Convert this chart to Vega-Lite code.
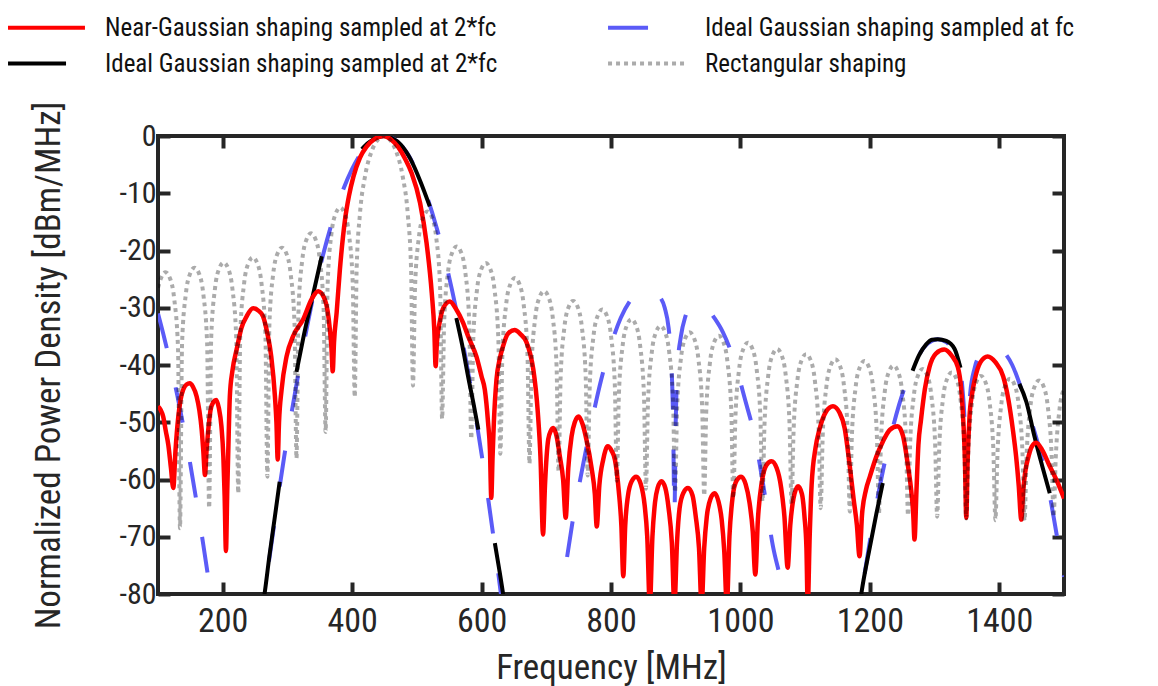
{
"$schema": "https://vega.github.io/schema/vega-lite/v6.json",
"width": 906, "height": 458,
"autosize": "none",
"padding": {"left": 158, "top": 136, "right": 94, "bottom": 92},
"background": "white",
"config": {
  "view": {"stroke": "#262626", "strokeWidth": 4},
  "font": "'Liberation Sans Narrow', 'Noto Sans Condensed', 'Roboto Condensed', 'DejaVu Sans Condensed', sans-serif"
},
"datasets": {
"blue": [
{"s":"b","g":1,"f":100,"d":-31},{"s":"b","g":1,"f":110,"d":-35.4},{"s":"b","g":1,"f":120,"d":-40.2},{"s":"b","g":1,"f":130,"d":-45.4},{"s":"b","g":1,"f":140,"d":-51.2},{"s":"b","g":1,"f":150,"d":-57.4},{"s":"b","g":1,"f":160,"d":-64.2},{"s":"b","g":1,"f":170,"d":-71.4},{"s":"b","g":1,"f":180,"d":-79},{"s":"b","g":1,"f":190,"d":-87.2},
{"s":"b","g":2,"f":255,"d":-87.5},{"s":"b","g":2,"f":265,"d":-79.5},{"s":"b","g":2,"f":280,"d":-67.5},{"s":"b","g":2,"f":295,"d":-56},{"s":"b","g":2,"f":310,"d":-46},{"s":"b","g":2,"f":325,"d":-36.5},{"s":"b","g":2,"f":340,"d":-28},{"s":"b","g":2,"f":355,"d":-20.8},{"s":"b","g":2,"f":370,"d":-14.7},{"s":"b","g":2,"f":385,"d":-9.7},{"s":"b","g":2,"f":400,"d":-5.75},{"s":"b","g":2,"f":415,"d":-2.8},{"s":"b","g":2,"f":430,"d":-0.9},{"s":"b","g":2,"f":450,"d":0},{"s":"b","g":2,"f":470,"d":-1},{"s":"b","g":2,"f":485,"d":-3},{"s":"b","g":2,"f":500,"d":-6.2},{"s":"b","g":2,"f":515,"d":-10.4},{"s":"b","g":2,"f":530,"d":-15.8},{"s":"b","g":2,"f":545,"d":-22.3},{"s":"b","g":2,"f":560,"d":-29.9},{"s":"b","g":2,"f":575,"d":-38.6},{"s":"b","g":2,"f":590,"d":-48.4},{"s":"b","g":2,"f":605,"d":-59.3},{"s":"b","g":2,"f":620,"d":-71.4},{"s":"b","g":2,"f":635,"d":-84.5},
{"s":"b","g":3,"f":716,"d":-86.7},{"s":"b","g":3,"f":725,"d":-79.2},{"s":"b","g":3,"f":740,"d":-67.8},{"s":"b","g":3,"f":755,"d":-58.5},{"s":"b","g":3,"f":770,"d":-50},{"s":"b","g":3,"f":785,"d":-42.5},{"s":"b","g":3,"f":800,"d":-36.5},{"s":"b","g":3,"f":815,"d":-31.8},{"s":"b","g":3,"f":830,"d":-28.7},{"s":"b","g":3,"f":845,"d":-27.1},{"s":"b","g":3,"f":855,"d":-26.8},{"s":"b","g":3,"f":865,"d":-27.1},{"s":"b","g":3,"f":875,"d":-28},{"s":"b","g":3,"f":883,"d":-30},{"s":"b","g":3,"f":889,"d":-33.5},{"s":"b","g":3,"f":893,"d":-39},{"s":"b","g":3,"f":896,"d":-50},{"s":"b","g":3,"f":898,"d":-66},{"s":"b","g":3,"f":900,"d":-50},{"s":"b","g":3,"f":903,"d":-40},{"s":"b","g":3,"f":908,"d":-35},{"s":"b","g":3,"f":915,"d":-31.5},{"s":"b","g":3,"f":924,"d":-29.5},{"s":"b","g":3,"f":933,"d":-29},{"s":"b","g":3,"f":945,"d":-29.5},{"s":"b","g":3,"f":958,"d":-31.5},{"s":"b","g":3,"f":973,"d":-34.3},{"s":"b","g":3,"f":991,"d":-39.5},{"s":"b","g":3,"f":1007,"d":-46},{"s":"b","g":3,"f":1022,"d":-52.5},{"s":"b","g":3,"f":1036,"d":-61.5},{"s":"b","g":3,"f":1050,"d":-71.5},{"s":"b","g":3,"f":1064,"d":-78.5},{"s":"b","g":3,"f":1075,"d":-86},
{"s":"b","g":4,"f":1175,"d":-89.6},{"s":"b","g":4,"f":1185,"d":-81.6},{"s":"b","g":4,"f":1200,"d":-70.8},{"s":"b","g":4,"f":1215,"d":-61.4},{"s":"b","g":4,"f":1230,"d":-53.5},{"s":"b","g":4,"f":1245,"d":-47},{"s":"b","g":4,"f":1260,"d":-42},{"s":"b","g":4,"f":1275,"d":-38.4},{"s":"b","g":4,"f":1290,"d":-36.2},{"s":"b","g":4,"f":1305,"d":-35.5},{"s":"b","g":4,"f":1318,"d":-36},{"s":"b","g":4,"f":1330,"d":-37.7},{"s":"b","g":4,"f":1338,"d":-40},{"s":"b","g":4,"f":1343,"d":-44},{"s":"b","g":4,"f":1347,"d":-52},{"s":"b","g":4,"f":1349,"d":-64},{"s":"b","g":4,"f":1351,"d":-52},{"s":"b","g":4,"f":1355,"d":-45},{"s":"b","g":4,"f":1362,"d":-40.5},{"s":"b","g":4,"f":1372,"d":-38},{"s":"b","g":4,"f":1390,"d":-36.7},{"s":"b","g":4,"f":1405,"d":-37.5},{"s":"b","g":4,"f":1420,"d":-40},{"s":"b","g":4,"f":1435,"d":-44.5},{"s":"b","g":4,"f":1450,"d":-50},{"s":"b","g":4,"f":1465,"d":-56},{"s":"b","g":4,"f":1478,"d":-62.8},{"s":"b","g":4,"f":1490,"d":-70.5},{"s":"b","g":4,"f":1500,"d":-77}
],
"black": [
{"s":"k","g":1,"f":262,"d":-82},{"s":"k","g":1,"f":265,"d":-79.7},{"s":"k","g":1,"f":272,"d":-73.5},{"s":"k","g":1,"f":280,"d":-67},{"s":"k","g":1,"f":288,"d":-60.4},
{"s":"k","g":2,"f":314,"d":-41.2},{"s":"k","g":2,"f":325,"d":-35},{"s":"k","g":2,"f":340,"d":-27.5},{"s":"k","g":2,"f":353,"d":-21},
{"s":"k","g":3,"f":415,"d":-2.3},{"s":"k","g":3,"f":425,"d":-1.2},{"s":"k","g":3,"f":438,"d":-0.3},{"s":"k","g":3,"f":450,"d":0},{"s":"k","g":3,"f":462,"d":-0.4},{"s":"k","g":3,"f":475,"d":-1.5},{"s":"k","g":3,"f":490,"d":-4},{"s":"k","g":3,"f":505,"d":-7.8},{"s":"k","g":3,"f":520,"d":-12.3},
{"s":"k","g":4,"f":561,"d":-31.8},{"s":"k","g":4,"f":570,"d":-36.5},{"s":"k","g":4,"f":580,"d":-42.5},{"s":"k","g":4,"f":588,"d":-47},{"s":"k","g":4,"f":595,"d":-51.3},
{"s":"k","g":5,"f":620.5,"d":-71.1},{"s":"k","g":5,"f":627,"d":-75.5},{"s":"k","g":5,"f":633,"d":-79.8},{"s":"k","g":5,"f":637,"d":-83},
{"s":"k","g":6,"f":1183,"d":-83},{"s":"k","g":6,"f":1187,"d":-79.8},{"s":"k","g":6,"f":1200,"d":-71.8},{"s":"k","g":6,"f":1210,"d":-66},{"s":"k","g":6,"f":1220,"d":-60.6},
{"s":"k","g":7,"f":1266,"d":-41},{"s":"k","g":7,"f":1276,"d":-38.3},{"s":"k","g":7,"f":1287,"d":-36.4},{"s":"k","g":7,"f":1296,"d":-35.6},{"s":"k","g":7,"f":1305,"d":-35.5},{"s":"k","g":7,"f":1318,"d":-35.8},{"s":"k","g":7,"f":1331,"d":-37.2},{"s":"k","g":7,"f":1340,"d":-40.5},
{"s":"k","g":8,"f":1431,"d":-43.3},{"s":"k","g":8,"f":1442,"d":-46.5},{"s":"k","g":8,"f":1454,"d":-52.3},{"s":"k","g":8,"f":1466,"d":-57.5},{"s":"k","g":8,"f":1478,"d":-62.4}
],
"red": [
{"s":"r","f":100,"d":-47.2},{"s":"r","f":104,"d":-47.8},{"s":"r","f":108,"d":-49},{"s":"r","f":112,"d":-51.5},{"s":"r","f":116,"d":-54},{"s":"r","f":120,"d":-58},{"s":"r","f":123.6,"d":-61.5},{"s":"r","f":127,"d":-55},{"s":"r","f":131.4,"d":-49},{"s":"r","f":135,"d":-46},{"s":"r","f":139,"d":-44.3},{"s":"r","f":144,"d":-43.4},{"s":"r","f":149,"d":-43.2},{"s":"r","f":154,"d":-43.8},{"s":"r","f":159.7,"d":-45.5},{"s":"r","f":164,"d":-48},{"s":"r","f":167.5,"d":-51.3},{"s":"r","f":170,"d":-55},{"s":"r","f":172.6,"d":-59.2},{"s":"r","f":175,"d":-55},{"s":"r","f":177.7,"d":-51.3},{"s":"r","f":181,"d":-48},{"s":"r","f":185.4,"d":-46.5},{"s":"r","f":190,"d":-46.1},{"s":"r","f":194,"d":-47.5},{"s":"r","f":198,"d":-50.7},{"s":"r","f":201,"d":-56},{"s":"r","f":203,"d":-63},{"s":"r","f":205,"d":-72.5},{"s":"r","f":207,"d":-62},{"s":"r","f":208.6,"d":-55},{"s":"r","f":211,"d":-45.5},{"s":"r","f":215,"d":-41},{"s":"r","f":221.5,"d":-37.3},{"s":"r","f":229,"d":-33.5},{"s":"r","f":237,"d":-31.5},{"s":"r","f":247,"d":-30.1},{"s":"r","f":255,"d":-30.5},{"s":"r","f":262.3,"d":-31.5},{"s":"r","f":269,"d":-34.5},{"s":"r","f":275,"d":-38.5},{"s":"r","f":280.7,"d":-45.5},{"s":"r","f":283,"d":-50},{"s":"r","f":285,"d":-56.5},{"s":"r","f":287,"d":-50},{"s":"r","f":291,"d":-44.3},{"s":"r","f":298.7,"d":-38.5},{"s":"r","f":309,"d":-34.9},{"s":"r","f":324.4,"d":-32},{"s":"r","f":337.4,"d":-28.5},{"s":"r","f":347.6,"d":-27.1},{"s":"r","f":357.9,"d":-28.6},{"s":"r","f":362,"d":-30.5},{"s":"r","f":365.6,"d":-33.8},{"s":"r","f":368,"d":-37},{"s":"r","f":370,"d":-41.1},{"s":"r","f":372,"d":-36},{"s":"r","f":376,"d":-30.9},{"s":"r","f":381,"d":-23.4},{"s":"r","f":389,"d":-14.6},{"s":"r","f":395,"d":-10.5},{"s":"r","f":402,"d":-7.1},{"s":"r","f":412,"d":-3.8},{"s":"r","f":422,"d":-1.9},{"s":"r","f":435,"d":-0.5},{"s":"r","f":448,"d":0},{"s":"r","f":460,"d":-0.6},{"s":"r","f":471,"d":-1.9},{"s":"r","f":482,"d":-4},{"s":"r","f":492,"d":-6.5},{"s":"r","f":505,"d":-11.7},{"s":"r","f":515,"d":-18.7},{"s":"r","f":523,"d":-27.4},{"s":"r","f":527,"d":-34},{"s":"r","f":529,"d":-40.2},{"s":"r","f":531,"d":-36},{"s":"r","f":535,"d":-32.7},{"s":"r","f":541,"d":-30},{"s":"r","f":551,"d":-28.9},{"s":"r","f":561,"d":-30.3},{"s":"r","f":571,"d":-32.5},{"s":"r","f":580,"d":-35.2},{"s":"r","f":592,"d":-38.5},{"s":"r","f":600,"d":-42},{"s":"r","f":605,"d":-44.3},{"s":"r","f":610,"d":-50},{"s":"r","f":613,"d":-55},{"s":"r","f":615,"d":-63.2},{"s":"r","f":617,"d":-56},{"s":"r","f":619,"d":-50},{"s":"r","f":623,"d":-42.6},{"s":"r","f":628,"d":-39},{"s":"r","f":633,"d":-36.8},{"s":"r","f":641,"d":-34.5},{"s":"r","f":651,"d":-33.9},{"s":"r","f":660,"d":-34.6},{"s":"r","f":669,"d":-35.9},{"s":"r","f":675,"d":-38},{"s":"r","f":680,"d":-40.8},{"s":"r","f":687,"d":-48.4},{"s":"r","f":691,"d":-56},{"s":"r","f":695,"d":-69.6},{"s":"r","f":698,"d":-61},{"s":"r","f":703,"d":-53},{"s":"r","f":707,"d":-51.5},{"s":"r","f":711,"d":-51},{"s":"r","f":716,"d":-52.5},{"s":"r","f":721,"d":-56},{"s":"r","f":726,"d":-60},{"s":"r","f":730,"d":-66.7},{"s":"r","f":734,"d":-58},{"s":"r","f":739,"d":-52.5},{"s":"r","f":744,"d":-50},{"s":"r","f":750,"d":-49},{"s":"r","f":756,"d":-50.3},{"s":"r","f":762,"d":-53},{"s":"r","f":770,"d":-58},{"s":"r","f":775,"d":-62.5},{"s":"r","f":778,"d":-68.2},{"s":"r","f":782,"d":-61},{"s":"r","f":788,"d":-56.5},{"s":"r","f":795,"d":-54.2},{"s":"r","f":801,"d":-55},{"s":"r","f":806,"d":-56.5},{"s":"r","f":812,"d":-62},{"s":"r","f":816,"d":-68},{"s":"r","f":819,"d":-76.9},{"s":"r","f":822,"d":-68},{"s":"r","f":826,"d":-63},{"s":"r","f":832,"d":-60.3},{"s":"r","f":839,"d":-59.5},{"s":"r","f":846,"d":-60.8},{"s":"r","f":852,"d":-64.5},{"s":"r","f":856,"d":-70},{"s":"r","f":860,"d":-82},{"s":"r","f":864,"d":-70},{"s":"r","f":868,"d":-64},{"s":"r","f":872,"d":-61.5},{"s":"r","f":878,"d":-60.3},{"s":"r","f":884,"d":-61.5},{"s":"r","f":889,"d":-65},{"s":"r","f":894,"d":-71},{"s":"r","f":898,"d":-82},{"s":"r","f":902,"d":-71},{"s":"r","f":906,"d":-65},{"s":"r","f":912,"d":-62.3},{"s":"r","f":919,"d":-61.5},{"s":"r","f":926,"d":-62.8},{"s":"r","f":931,"d":-66.5},{"s":"r","f":936,"d":-72},{"s":"r","f":940,"d":-82},{"s":"r","f":944,"d":-72},{"s":"r","f":948,"d":-66.5},{"s":"r","f":954,"d":-63.3},{"s":"r","f":960,"d":-62.4},{"s":"r","f":966,"d":-63.8},{"s":"r","f":971,"d":-67},{"s":"r","f":975,"d":-72.5},{"s":"r","f":979,"d":-82},{"s":"r","f":983,"d":-70},{"s":"r","f":988,"d":-63},{"s":"r","f":994,"d":-60.2},{"s":"r","f":1001,"d":-59.5},{"s":"r","f":1008,"d":-60.8},{"s":"r","f":1014,"d":-64},{"s":"r","f":1019,"d":-69},{"s":"r","f":1023,"d":-76.6},{"s":"r","f":1027,"d":-67},{"s":"r","f":1033,"d":-60.5},{"s":"r","f":1040,"d":-57.5},{"s":"r","f":1048,"d":-56.8},{"s":"r","f":1056,"d":-58},{"s":"r","f":1063,"d":-61.5},{"s":"r","f":1068,"d":-66.5},{"s":"r","f":1073,"d":-75.4},{"s":"r","f":1077,"d":-68},{"s":"r","f":1082,"d":-63.3},{"s":"r","f":1089,"d":-61.2},{"s":"r","f":1095,"d":-62.5},{"s":"r","f":1099,"d":-66.5},{"s":"r","f":1102,"d":-72},{"s":"r","f":1104,"d":-82},{"s":"r","f":1107,"d":-70},{"s":"r","f":1110,"d":-61},{"s":"r","f":1116,"d":-54.5},{"s":"r","f":1122,"d":-51.3},{"s":"r","f":1132,"d":-48.2},{"s":"r","f":1143,"d":-47.2},{"s":"r","f":1153,"d":-48.3},{"s":"r","f":1161,"d":-51},{"s":"r","f":1169,"d":-57.7},{"s":"r","f":1175,"d":-63.5},{"s":"r","f":1180,"d":-68},{"s":"r","f":1184,"d":-73.4},{"s":"r","f":1188,"d":-66},{"s":"r","f":1194,"d":-61.8},{"s":"r","f":1200,"d":-59.5},{"s":"r","f":1210,"d":-56},{"s":"r","f":1220,"d":-53.4},{"s":"r","f":1231,"d":-51.3},{"s":"r","f":1243,"d":-50.7},{"s":"r","f":1251,"d":-52.3},{"s":"r","f":1259,"d":-57.7},{"s":"r","f":1264,"d":-62},{"s":"r","f":1267,"d":-66},{"s":"r","f":1269,"d":-70.5},{"s":"r","f":1272,"d":-62},{"s":"r","f":1275,"d":-54},{"s":"r","f":1279,"d":-49.6},{"s":"r","f":1285,"d":-44.2},{"s":"r","f":1292,"d":-40.4},{"s":"r","f":1302,"d":-38},{"s":"r","f":1315,"d":-37.3},{"s":"r","f":1326,"d":-38.3},{"s":"r","f":1336,"d":-40.4},{"s":"r","f":1341,"d":-44},{"s":"r","f":1345,"d":-51},{"s":"r","f":1347,"d":-57},{"s":"r","f":1349,"d":-66.7},{"s":"r","f":1351,"d":-57},{"s":"r","f":1354,"d":-49},{"s":"r","f":1358,"d":-45},{"s":"r","f":1362,"d":-42.6},{"s":"r","f":1371,"d":-39.5},{"s":"r","f":1382,"d":-38.5},{"s":"r","f":1394,"d":-39.5},{"s":"r","f":1406,"d":-42},{"s":"r","f":1414,"d":-46},{"s":"r","f":1421,"d":-51.3},{"s":"r","f":1426,"d":-56},{"s":"r","f":1430,"d":-61},{"s":"r","f":1434,"d":-67},{"s":"r","f":1437,"d":-62},{"s":"r","f":1441,"d":-58},{"s":"r","f":1444,"d":-56.5},{"s":"r","f":1450,"d":-54.3},{"s":"r","f":1457,"d":-53.6},{"s":"r","f":1466,"d":-54.8},{"s":"r","f":1478,"d":-57.7},{"s":"r","f":1490,"d":-60.5},{"s":"r","f":1500,"d":-63.3}
],
"gray": [
{"s":"g","f":100,"d":-26.5},{"s":"g","f":104.8,"d":-24.8},{"s":"g","f":111.5,"d":-23.8},{"s":"g","f":118.3,"d":-24.8},{"s":"g","f":125,"d":-28.4},{"s":"g","f":130.9,"d":-37},{"s":"g","f":134,"d":-68.5},
{"s":"g","f":137.2,"d":-36.2},{"s":"g","f":143,"d":-27.6},{"s":"g","f":149.8,"d":-24},{"s":"g","f":156.5,"d":-23},{"s":"g","f":163.3,"d":-24},{"s":"g","f":170,"d":-27.6},{"s":"g","f":175.9,"d":-36.2},{"s":"g","f":179,"d":-65},
{"s":"g","f":182.2,"d":-35.3},{"s":"g","f":188,"d":-26.7},{"s":"g","f":194.8,"d":-23.1},{"s":"g","f":201.5,"d":-22.1},{"s":"g","f":208.3,"d":-23.1},{"s":"g","f":215,"d":-26.7},{"s":"g","f":220.9,"d":-35.3},{"s":"g","f":224,"d":-62.4},
{"s":"g","f":227.2,"d":-34.4},{"s":"g","f":233,"d":-25.8},{"s":"g","f":239.8,"d":-22.2},{"s":"g","f":246.5,"d":-21.2},{"s":"g","f":253.3,"d":-22.2},{"s":"g","f":260,"d":-25.8},{"s":"g","f":265.9,"d":-34.4},{"s":"g","f":269,"d":-59.5},
{"s":"g","f":272.2,"d":-32.7},{"s":"g","f":278,"d":-24.1},{"s":"g","f":284.8,"d":-20.5},{"s":"g","f":291.5,"d":-19.5},{"s":"g","f":298.3,"d":-20.5},{"s":"g","f":305,"d":-24.1},{"s":"g","f":310.9,"d":-32.7},{"s":"g","f":314,"d":-56.3},
{"s":"g","f":317.2,"d":-30.2},{"s":"g","f":323,"d":-21.6},{"s":"g","f":329.8,"d":-18},{"s":"g","f":336.5,"d":-17},{"s":"g","f":343.3,"d":-18},{"s":"g","f":350,"d":-21.6},{"s":"g","f":355.9,"d":-30.2},{"s":"g","f":359,"d":-51.7},
{"s":"g","f":362.2,"d":-25.7},{"s":"g","f":368,"d":-17.1},{"s":"g","f":374.8,"d":-13.5},{"s":"g","f":381.5,"d":-12.5},{"s":"g","f":388.3,"d":-13.5},{"s":"g","f":395,"d":-17.1},{"s":"g","f":400.9,"d":-25.7},{"s":"g","f":404,"d":-45.6},
{"s":"g","f":407,"d":-23},{"s":"g","f":412,"d":-13.7},{"s":"g","f":420,"d":-7},{"s":"g","f":430,"d":-2.7},{"s":"g","f":440,"d":-0.6},{"s":"g","f":449,"d":0},{"s":"g","f":458,"d":-0.6},{"s":"g","f":468,"d":-2.7},{"s":"g","f":478,"d":-7},{"s":"g","f":486,"d":-13.7},{"s":"g","f":491,"d":-23},{"s":"g","f":494,"d":-43.6},
{"s":"g","f":497.2,"d":-26.4},{"s":"g","f":503,"d":-17.8},{"s":"g","f":509.8,"d":-14.2},{"s":"g","f":516.5,"d":-13.2},{"s":"g","f":523.3,"d":-14.2},{"s":"g","f":530,"d":-17.8},{"s":"g","f":535.9,"d":-26.4},{"s":"g","f":539,"d":-49.4},
{"s":"g","f":542.2,"d":-32.5},{"s":"g","f":548,"d":-23.9},{"s":"g","f":554.8,"d":-20.3},{"s":"g","f":561.5,"d":-19.3},{"s":"g","f":568.3,"d":-20.3},{"s":"g","f":575,"d":-23.9},{"s":"g","f":580.9,"d":-32.5},{"s":"g","f":584,"d":-52.9},
{"s":"g","f":587.2,"d":-35.4},{"s":"g","f":593,"d":-26.8},{"s":"g","f":599.8,"d":-23.2},{"s":"g","f":606.5,"d":-22.2},{"s":"g","f":613.3,"d":-23.2},{"s":"g","f":620,"d":-26.8},{"s":"g","f":625.9,"d":-35.4},{"s":"g","f":629,"d":-55.5},
{"s":"g","f":632.2,"d":-38},{"s":"g","f":638,"d":-29.4},{"s":"g","f":644.8,"d":-25.8},{"s":"g","f":651.5,"d":-24.8},{"s":"g","f":658.3,"d":-25.8},{"s":"g","f":665,"d":-29.4},{"s":"g","f":670.9,"d":-38},{"s":"g","f":674,"d":-57.2},
{"s":"g","f":677.2,"d":-40.3},{"s":"g","f":683,"d":-31.7},{"s":"g","f":689.8,"d":-28.1},{"s":"g","f":696.5,"d":-27.1},{"s":"g","f":703.3,"d":-28.1},{"s":"g","f":710,"d":-31.7},{"s":"g","f":715.9,"d":-40.3},{"s":"g","f":719,"d":-58.6},
{"s":"g","f":722.2,"d":-42},{"s":"g","f":728,"d":-33.4},{"s":"g","f":734.8,"d":-29.8},{"s":"g","f":741.5,"d":-28.8},{"s":"g","f":748.3,"d":-29.8},{"s":"g","f":755,"d":-33.4},{"s":"g","f":760.9,"d":-42},{"s":"g","f":764,"d":-59.3},
{"s":"g","f":767.2,"d":-43.5},{"s":"g","f":773,"d":-34.9},{"s":"g","f":779.8,"d":-31.3},{"s":"g","f":786.5,"d":-30.3},{"s":"g","f":793.3,"d":-31.3},{"s":"g","f":800,"d":-34.9},{"s":"g","f":805.9,"d":-43.5},{"s":"g","f":809,"d":-60.2},
{"s":"g","f":812.2,"d":-45.2},{"s":"g","f":818,"d":-36.6},{"s":"g","f":824.8,"d":-33},{"s":"g","f":831.5,"d":-32},{"s":"g","f":838.3,"d":-33},{"s":"g","f":845,"d":-36.6},{"s":"g","f":850.9,"d":-45.2},{"s":"g","f":854,"d":-61.6},
{"s":"g","f":857.2,"d":-46.4},{"s":"g","f":863,"d":-37.8},{"s":"g","f":869.8,"d":-34.2},{"s":"g","f":876.5,"d":-33.2},{"s":"g","f":883.3,"d":-34.2},{"s":"g","f":890,"d":-37.8},{"s":"g","f":895.9,"d":-46.4},{"s":"g","f":899,"d":-62.2},
{"s":"g","f":902.2,"d":-47.5},{"s":"g","f":908,"d":-38.9},{"s":"g","f":914.8,"d":-35.3},{"s":"g","f":921.5,"d":-34.3},{"s":"g","f":928.3,"d":-35.3},{"s":"g","f":935,"d":-38.9},{"s":"g","f":940.9,"d":-47.5},{"s":"g","f":944,"d":-62.8},
{"s":"g","f":947.2,"d":-48.1},{"s":"g","f":953,"d":-39.5},{"s":"g","f":959.8,"d":-35.9},{"s":"g","f":966.5,"d":-34.9},{"s":"g","f":973.3,"d":-35.9},{"s":"g","f":980,"d":-39.5},{"s":"g","f":985.9,"d":-48.1},{"s":"g","f":989,"d":-63.3},
{"s":"g","f":992.2,"d":-49.3},{"s":"g","f":998,"d":-40.7},{"s":"g","f":1004.8,"d":-37.1},{"s":"g","f":1011.5,"d":-36.1},{"s":"g","f":1018.3,"d":-37.1},{"s":"g","f":1025,"d":-40.7},{"s":"g","f":1030.9,"d":-49.3},{"s":"g","f":1034,"d":-63.8},
{"s":"g","f":1037.2,"d":-50.4},{"s":"g","f":1043,"d":-41.8},{"s":"g","f":1049.8,"d":-38.2},{"s":"g","f":1056.5,"d":-37.2},{"s":"g","f":1063.3,"d":-38.2},{"s":"g","f":1070,"d":-41.8},{"s":"g","f":1075.9,"d":-50.4},{"s":"g","f":1079,"d":-64.2},
{"s":"g","f":1082.2,"d":-51.3},{"s":"g","f":1088,"d":-42.7},{"s":"g","f":1094.8,"d":-39.1},{"s":"g","f":1101.5,"d":-38.1},{"s":"g","f":1108.3,"d":-39.1},{"s":"g","f":1115,"d":-42.7},{"s":"g","f":1120.9,"d":-51.3},{"s":"g","f":1124,"d":-65},
{"s":"g","f":1127.2,"d":-52.2},{"s":"g","f":1133,"d":-43.6},{"s":"g","f":1139.8,"d":-40},{"s":"g","f":1146.5,"d":-39},{"s":"g","f":1153.3,"d":-40},{"s":"g","f":1160,"d":-43.6},{"s":"g","f":1165.9,"d":-52.2},{"s":"g","f":1169,"d":-65.6},
{"s":"g","f":1172.2,"d":-52.5},{"s":"g","f":1178,"d":-43.9},{"s":"g","f":1184.8,"d":-40.3},{"s":"g","f":1191.5,"d":-39.3},{"s":"g","f":1198.3,"d":-40.3},{"s":"g","f":1205,"d":-43.9},{"s":"g","f":1210.9,"d":-52.5},{"s":"g","f":1214,"d":-66},
{"s":"g","f":1217.2,"d":-53.3},{"s":"g","f":1223,"d":-44.7},{"s":"g","f":1229.8,"d":-41.1},{"s":"g","f":1236.5,"d":-40.1},{"s":"g","f":1243.3,"d":-41.1},{"s":"g","f":1250,"d":-44.7},{"s":"g","f":1255.9,"d":-53.3},{"s":"g","f":1259,"d":-66.3},
{"s":"g","f":1262.2,"d":-53.9},{"s":"g","f":1268,"d":-45.3},{"s":"g","f":1274.8,"d":-41.7},{"s":"g","f":1281.5,"d":-40.7},{"s":"g","f":1288.3,"d":-41.7},{"s":"g","f":1295,"d":-45.3},{"s":"g","f":1300.9,"d":-53.9},{"s":"g","f":1304,"d":-66.5},
{"s":"g","f":1307.2,"d":-54.5},{"s":"g","f":1313,"d":-45.9},{"s":"g","f":1319.8,"d":-42.3},{"s":"g","f":1326.5,"d":-41.3},{"s":"g","f":1333.3,"d":-42.3},{"s":"g","f":1340,"d":-45.9},{"s":"g","f":1345.9,"d":-54.5},{"s":"g","f":1349,"d":-66.8},
{"s":"g","f":1352.2,"d":-55.1},{"s":"g","f":1358,"d":-46.5},{"s":"g","f":1364.8,"d":-42.9},{"s":"g","f":1371.5,"d":-41.9},{"s":"g","f":1378.3,"d":-42.9},{"s":"g","f":1385,"d":-46.5},{"s":"g","f":1390.9,"d":-55.1},{"s":"g","f":1394,"d":-67.1},
{"s":"g","f":1397.2,"d":-55.6},{"s":"g","f":1403,"d":-47},{"s":"g","f":1409.8,"d":-43.4},{"s":"g","f":1416.5,"d":-42.4},{"s":"g","f":1423.3,"d":-43.4},{"s":"g","f":1430,"d":-47},{"s":"g","f":1435.9,"d":-55.6},{"s":"g","f":1439,"d":-67.2},
{"s":"g","f":1442.2,"d":-55.9},{"s":"g","f":1448,"d":-47.3},{"s":"g","f":1454.8,"d":-43.7},{"s":"g","f":1461.5,"d":-42.7},{"s":"g","f":1468.3,"d":-43.7},{"s":"g","f":1475,"d":-47.3},{"s":"g","f":1480.9,"d":-55.9},{"s":"g","f":1484,"d":-66.5},
{"s":"g","f":1487.2,"d":-56.4},{"s":"g","f":1493,"d":-47.8},{"s":"g","f":1500,"d":-44.2}
]
},
"layer": [
{
  "data": {"name": "blue"},
  "mark": {"type": "line", "interpolate": "monotone", "clip": true, "strokeWidth": 4, "strokeDash": [36, 40], "strokeCap": "butt"},
  "encoding": {
    "x": {"field": "f", "type": "quantitative", "scale": {"domain": [100, 1500], "nice": false, "zero": false},
      "axis": {"orient": "bottom", "values": [200, 400, 600, 800, 1000, 1200, 1400], "labelExpr": "'' + datum.value", "title": "Frequency [MHz]", "grid": false, "domain": false,
        "tickSize": -12, "tickWidth": 4, "tickColor": "#262626", "labelFontSize": 34, "labelColor": "#262626", "labelPadding": 22,
        "titleFontSize": 35, "titleFontWeight": "normal", "titleColor": "#262626", "titlePadding": 12}},
    "y": {"field": "d", "type": "quantitative", "scale": {"domain": [-80, 0], "nice": false, "zero": false},
      "axis": {"orient": "left", "values": [-80, -70, -60, -50, -40, -30, -20, -10, 0], "labelExpr": "'' + datum.value", "title": "Normalized Power Density [dBm/MHz]", "grid": false, "domain": false,
        "tickSize": -12, "tickWidth": 4, "tickColor": "#262626", "labelFontSize": 30, "labelColor": "#262626", "labelPadding": 14,
        "titleFontSize": 35, "titleFontWeight": "normal", "titleColor": "#262626", "titlePadding": 52}},
    "detail": {"field": "g"},
    "color": {"field": "s", "type": "nominal",
      "scale": {"domain": ["r", "k", "b", "g"], "range": ["#ff0000", "#000000", "#5b5bf7", "rgba(0,0,0,0.33)"]},
      "legend": {"orient": "none", "legendX": -124, "legendY": -121, "columns": 2, "title": null, "symbolType": "M-4,0H4", "symbolSize": 370, "symbolStrokeWidth": 4,
        "labelFontSize": 25, "labelColor": "#111111", "labelOffset": 46, "columnPadding": 102, "rowPadding": 10, "labelLimit": 0,
        "labelExpr": "datum.value == 'r' ? 'Near-Gaussian shaping sampled at 2*fc' : datum.value == 'b' ? 'Ideal Gaussian shaping sampled at fc' : datum.value == 'k' ? 'Ideal Gaussian shaping sampled at 2*fc' : 'Rectangular shaping'",
        "encode": {"symbols": {"update": {"strokeDash": {"signal": "datum.value == 'k' ? [58, 40] : datum.value == 'b' ? [40, 40] : datum.value == 'g' ? [4, 4] : [1, 0]"}}}}}
    }
  }
},
{
  "data": {"name": "black"},
  "mark": {"type": "line", "interpolate": "monotone", "clip": true, "strokeWidth": 4},
  "encoding": {
    "x": {"field": "f", "type": "quantitative", "axis": {"orient": "top", "values": [200, 400, 600, 800, 1000, 1200, 1400], "labels": false, "title": null, "grid": false, "domain": false, "tickSize": -12, "tickWidth": 4, "tickColor": "#262626"}},
    "y": {"field": "d", "type": "quantitative", "axis": {"orient": "right", "values": [-80, -70, -60, -50, -40, -30, -20, -10, 0], "labels": false, "title": null, "grid": false, "domain": false, "tickSize": -12, "tickWidth": 4, "tickColor": "#262626"}},
    "detail": {"field": "g"},
    "color": {"field": "s", "type": "nominal"}
  }
},
{
  "data": {"name": "red"},
  "mark": {"type": "line", "interpolate": "monotone", "clip": true, "strokeWidth": 4.5},
  "encoding": {
    "x": {"field": "f", "type": "quantitative", "axis": null},
    "y": {"field": "d", "type": "quantitative", "axis": null},
    "color": {"field": "s", "type": "nominal"}
  }
},
{
  "data": {"name": "gray"},
  "mark": {"type": "line", "interpolate": "monotone", "clip": true, "strokeWidth": 4, "strokeDash": [4, 4], "strokeCap": "butt"},
  "encoding": {
    "x": {"field": "f", "type": "quantitative", "axis": null},
    "y": {"field": "d", "type": "quantitative", "axis": null},
    "color": {"field": "s", "type": "nominal"}
  }
}
],
"resolve": {"axis": {"x": "independent", "y": "independent"}}
}
